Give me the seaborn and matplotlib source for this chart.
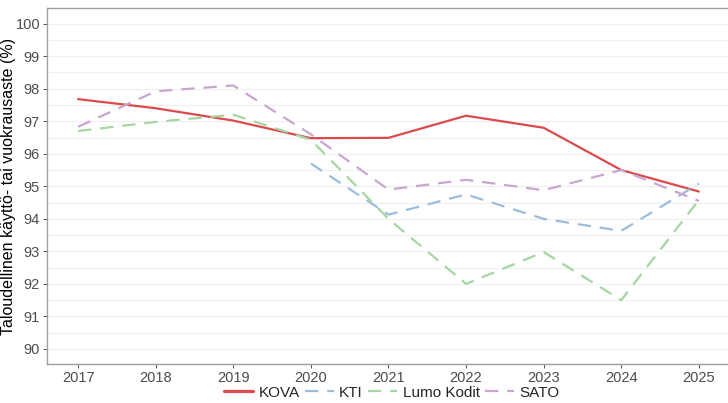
import numpy as np
import pandas as pd
import matplotlib
matplotlib.use("Agg")
import matplotlib.pyplot as plt
import seaborn as sns

years = [2017, 2018, 2019, 2020, 2021, 2022, 2023, 2024, 2025]
kova = [97.68, 97.40, 97.02, 96.48, 96.49, 97.17, 96.80, 95.50, 94.84]
kti = [np.nan, np.nan, np.nan, 95.70, 94.13, 94.75, 94.00, 93.63, 95.08]
lumo = [96.70, 96.98, 97.20, 96.43, 94.00, 92.00, 92.98, 91.50, 94.58]
sato = [96.83, 97.92, 98.10, 96.60, 94.90, 95.20, 94.88, 95.50, 94.55]

series = ["KOVA", "KTI", "Lumo Kodit", "SATO"]
colors = ["#dc4a4c", "#9bbddb", "#a6d5a3", "#c9a6d0"]

df = pd.DataFrame({"vuosi": years * 4,
                   "arvo": kova + kti + lumo + sato,
                   "yhtio": [s for s in series for _ in years]})

sns.set_style("white")
plt.rcParams["font.family"] = ["Liberation Sans", "DejaVu Sans"]

fig = plt.figure(figsize=(7.28, 4.03), dpi=100)
ax = fig.add_axes([0.0646, 0.097, 0.938, 0.883])

for y in np.arange(89.5, 100.6, 0.5):
    ax.axhline(y, color="#eeeeee", lw=0.8, zorder=0)

dash = (6, 4)
sns.lineplot(data=df, x="vuosi", y="arvo", hue="yhtio", style="yhtio",
             hue_order=series, palette=colors,
             dashes={"KOVA": "", "KTI": dash, "Lumo Kodit": dash, "SATO": dash},
             linewidth=1.6, ax=ax, legend=False)
# kova line a little thicker
ax.lines[0].set_linewidth(2.3)

ax.set_xlim(2016.6, 2025.4)
ax.set_ylim(89.54, 100.48)
ax.set_xticks(years)
ax.set_yticks(range(90, 101))
ax.tick_params(axis="both", colors="#555555", labelsize=10.5, length=3, width=0.7,
               left=True, bottom=True, pad=2)
for lab in ax.get_xticklabels() + ax.get_yticklabels():
    lab.set_color("#4d4d4d")
ax.set_xlabel("")
ax.set_ylabel("Taloudellinen käyttö- tai vuokrausaste (%)", fontsize=11.5, color="black")
ax.yaxis.set_label_coords(-0.046, 0.5)

for side in ["left", "bottom", "top"]:
    ax.spines[side].set_color("#a0a0a0")
    ax.spines[side].set_linewidth(1.0)
ax.spines["right"].set_visible(False)

handles = []
for s, c in zip(series, colors):
    ls = "-" if s == "KOVA" else (0, dash)
    lw = 2.3 if s == "KOVA" else 1.6
    handles.append(plt.Line2D([], [], color=c, lw=lw, linestyle=ls))
fig.legend(handles, series, loc="center", bbox_to_anchor=(0.538, 0.026), ncol=4,
           frameon=False, fontsize=11, handlelength=1.9, handletextpad=0.35,
           columnspacing=0.35)

fig.savefig("out.png", dpi=100)
